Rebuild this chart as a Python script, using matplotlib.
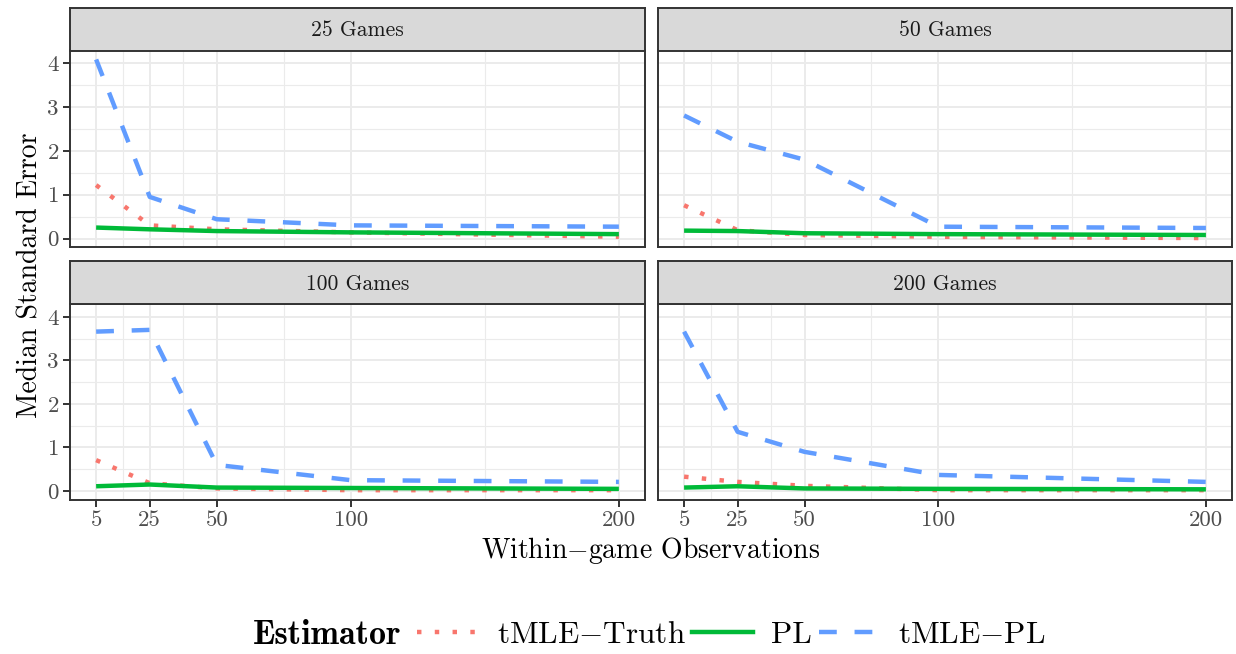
import numpy as np
import matplotlib
matplotlib.use("Agg")
import matplotlib.pyplot as plt
from matplotlib.lines import Line2D

plt.rcParams['font.family'] = ['cmr10', 'DejaVu Serif']
plt.rcParams['mathtext.fontset'] = 'cm'
plt.rcParams['axes.formatter.use_mathtext'] = True

# data
x_obs = [5, 25, 50, 100, 200]
panels = ["25 Games", "50 Games", "100 Games", "200 Games"]
estimators = ["tMLE$-$Truth", "PL", "tMLE$-$PL"]

truth_25 = [1.22, 0.30, 0.21, 0.14, 0.04]
pl_25 = [0.25, 0.21, 0.17, 0.14, 0.10]
tpl_25 = [4.09, 0.95, 0.44, 0.30, 0.27]

truth_50 = [0.76, 0.19, 0.08, 0.04, 0.01]
pl_50 = [0.18, 0.17, 0.12, 0.10, 0.08]
tpl_50 = [2.81, 2.21, 1.80, 0.27, 0.24]

truth_100 = [0.71, 0.18, 0.06, 0.02, 0.02]
pl_100 = [0.11, 0.15, 0.08, 0.07, 0.05]
tpl_100 = [3.66, 3.70, 0.60, 0.25, 0.21]

truth_200 = [0.33, 0.21, 0.12, 0.02, 0.02]
pl_200 = [0.08, 0.11, 0.06, 0.05, 0.04]
tpl_200 = [3.66, 1.36, 0.90, 0.37, 0.21]

series = [
    (truth_25, pl_25, tpl_25),
    (truth_50, pl_50, tpl_50),
    (truth_100, pl_100, tpl_100),
    (truth_200, pl_200, tpl_200),
]

colors = ["#F8766D", "#00BA38", "#619CFF"]
styles = [(0, (1, 3)), "-", (0, (4, 4))]
LW = 3.2

W, H = 1236, 654
fig = plt.figure(figsize=(W / 100, H / 100), dpi=100)

# panel boxes in pixels (left, right, top, bottom), strip height
cols = [(70, 645), (658, 1232)]
rows = [(50.5, 247), (304, 499.5)]
strip_h = 42.5

allv = np.concatenate([np.array(s).ravel() for s in series])
lo, hi = allv.min(), allv.max()
ypad = (hi - lo) * 0.05
xpad = (max(x_obs) - min(x_obs)) * 0.05

def px_axes(l, r, t, b):
    return fig.add_axes([l / W, 1 - b / H, (r - l) / W, (b - t) / H])

for k, name in enumerate(panels):
    ri, ci = divmod(k, 2)
    l, r = cols[ci]
    t, b = rows[ri]
    ax = px_axes(l, r, t, b)
    ax.set_xlim(min(x_obs) - xpad, max(x_obs) + xpad)
    ax.set_ylim(lo - ypad, hi + ypad)
    ax.set_xticks(x_obs)
    ax.set_xticks([15, 37.5, 75, 150], minor=True)
    ax.set_yticks([0, 1, 2, 3, 4])
    ax.set_yticks([0.5, 1.5, 2.5, 3.5], minor=True)
    ax.grid(True, which="major", color="#EBEBEB", lw=1.4, zorder=0)
    ax.grid(True, which="minor", color="#EBEBEB", lw=0.8, zorder=0)
    ax.set_axisbelow(True)
    for sp in ax.spines.values():
        sp.set_color("#333333")
        sp.set_linewidth(1.4)
    ax.tick_params(which="minor", length=0)
    ax.tick_params(which="major", length=5, width=1.4, color="#333333",
                   labelsize=16.5, labelcolor="#4D4D4D", pad=3)
    if ri == 0:
        ax.tick_params(axis="x", which="major", length=0, labelbottom=False)
    else:
        ax.set_xticklabels([str(v) for v in x_obs])
    if ci == 1:
        ax.tick_params(axis="y", which="major", length=0, labelleft=False)
    else:
        ax.set_yticklabels([str(v) for v in [0, 1, 2, 3, 4]])

    for vals, c, ls in zip(series[k], colors, styles):
        ax.plot(x_obs, vals, color=c, linestyle=ls, lw=LW,
                solid_capstyle="butt", dash_capstyle="butt", zorder=3)

    st = px_axes(l, r, t - strip_h, t)
    st.set_facecolor("#D9D9D9")
    st.set_xticks([])
    st.set_yticks([])
    for sp in st.spines.values():
        sp.set_color("#333333")
        sp.set_linewidth(1.4)
    st.text(0.5, 0.47, name, ha="center", va="center", fontsize=15.5,
            color="#1A1A1A", transform=st.transAxes)

fig.text(651 / W, 1 - 551 / H, "Within$-$game Observations", ha="center",
         va="center", fontsize=20)
fig.text(30 / W, 1 - 275 / H, "Median Standard Error", ha="center",
         va="center", rotation=90, fontsize=20)

# legend, title to the left
leg_y = 1 - 635 / H
fig.text(253 / W, leg_y, "Estimator", family=["cmb10", "DejaVu Serif"],
         fontsize=24.5, ha="left", va="center")
handles = [Line2D([], [], color=c, linestyle=ls, lw=LW, dash_capstyle="butt")
           for c, ls in zip(colors, styles)]
fig.legend(handles, estimators, loc="center left",
           bbox_to_anchor=(417 / W, leg_y), ncol=3, frameon=False,
           fontsize=22.5, handlelength=1.95, handletextpad=0.6,
           columnspacing=0.2, borderpad=0, borderaxespad=0)

fig.savefig("out.png", dpi=100)
